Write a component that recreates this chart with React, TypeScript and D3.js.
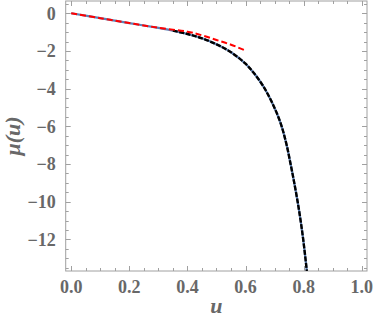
import React, {useEffect, useRef} from 'react';
import * as d3 from 'd3';

// values
const uExact = [0, 0.1, 0.2, 0.3, 0.35, 0.4, 0.45, 0.5, 0.55, 0.6, 0.63, 0.66, 0.69, 0.72, 0.74, 0.755, 0.767, 0.779, 0.789, 0.798, 0.811];
const muExact = [0, -0.26, -0.52, -0.78, -0.92, -1.1, -1.33, -1.65, -2.07, -2.68, -3.2, -3.85, -4.7, -5.8, -6.9, -8.0, -8.95, -9.98, -10.95, -11.95, -13.68];

const uApprox = [0, 0.1, 0.2, 0.3, 0.4, 0.45, 0.5, 0.55, 0.6];
const muApprox = [0, -0.26, -0.52, -0.77, -0.98, -1.17, -1.42, -1.67, -1.98];

const numericFrom = 0.35;

const xTicks = [0, 0.2, 0.4, 0.6, 0.8, 1.0];
const yTicks = [-12, -10, -8, -6, -4, -2, 0];

const W = 374;
const H = 329;
const frame = {left: 65.7, right: 367, top: 1, bottom: 271};

const App: React.FC = () => {
    const svgRef = useRef<SVGSVGElement>(null);

    useEffect(() => {
        const svg = d3.select(svgRef.current);
        svg.selectAll("*").remove();

        const x = d3.scaleLinear().domain([-0.019, 1.018]).range([frame.left, frame.right]);
        const y = d3.scaleLinear().domain([-13.68, 0.65]).range([frame.bottom, frame.top]);

        const frameColor = "#a0a0a0";
        const textColor = "#686868";
        const labelFont = "Liberation Serif, DejaVu Serif, serif";

        const xMinor = d3.range(0, 1.0001, 0.05);
        const yMinor = d3.range(-13.5, 0.5001, 0.5);

        const ticks = svg.append("g").attr("stroke", frameColor).attr("stroke-width", 1);
        xMinor.forEach(v => {
            const major = xTicks.some(t => Math.abs(t - v) < 1e-6);
            const len = major ? 5 : 3;
            const px = Math.round(x(v)) + 0.5;
            ticks.append("line").attr("x1", px).attr("x2", px)
                .attr("y1", frame.bottom).attr("y2", frame.bottom - len);
            ticks.append("line").attr("x1", px).attr("x2", px)
                .attr("y1", frame.top).attr("y2", frame.top + len);
        });
        yMinor.forEach(v => {
            const major = yTicks.some(t => Math.abs(t - v) < 1e-6);
            const len = major ? 5 : 3;
            const py = Math.round(y(v)) + 0.5;
            ticks.append("line").attr("y1", py).attr("y2", py)
                .attr("x1", frame.left).attr("x2", frame.left + len);
            ticks.append("line").attr("y1", py).attr("y2", py)
                .attr("x1", frame.right).attr("x2", frame.right - len);
        });

        svg.append("rect")
            .attr("x", frame.left).attr("y", frame.top)
            .attr("width", frame.right - frame.left).attr("height", frame.bottom - frame.top)
            .attr("fill", "none").attr("stroke", frameColor).attr("stroke-width", 1);

        svg.append("g").selectAll("text")
            .data(xTicks).enter().append("text")
            .attr("x", d => x(d))
            .attr("y", 293)
            .attr("text-anchor", "middle")
            .style("font-family", labelFont).style("font-weight", "bold").style("font-size", "18px")
            .attr("fill", textColor)
            .text(d => d.toFixed(1));

        svg.append("g").selectAll("text")
            .data(yTicks).enter().append("text")
            .attr("x", frame.left - 10)
            .attr("y", d => y(d))
            .attr("dy", "0.35em")
            .attr("text-anchor", "end")
            .style("font-family", labelFont).style("font-weight", "bold").style("font-size", "18px")
            .attr("fill", textColor)
            .text(d => (d < 0 ? "\u2212" + Math.abs(d) : String(d)));

        svg.append("text")
            .attr("x", (frame.left + frame.right) / 2)
            .attr("y", 313)
            .attr("text-anchor", "middle")
            .style("font-family", labelFont).style("font-weight", "bold").style("font-style", "italic")
            .style("font-size", "22px").attr("fill", textColor)
            .text("u");

        svg.append("text")
            .attr("transform", `translate(20,${(frame.top + frame.bottom) / 2}) rotate(-90)`)
            .attr("text-anchor", "middle")
            .style("font-family", labelFont).style("font-weight", "bold").style("font-style", "italic")
            .style("font-size", "22px").attr("fill", textColor)
            .text("\u03bc(u)");

        svg.append("clipPath").attr("id", "plot-clip")
            .append("rect")
            .attr("x", frame.left).attr("y", frame.top)
            .attr("width", frame.right - frame.left).attr("height", frame.bottom - frame.top);
        const g = svg.append("g").attr("clip-path", "url(#plot-clip)");

        const exact = uExact.map((u, i) => [u, muExact[i]] as [number, number]);
        const approx = uApprox.map((u, i) => [u, muApprox[i]] as [number, number]);
        const numeric = exact.filter(d => d[0] >= numericFrom);

        const line = d3.line<[number, number]>()
            .x(d => x(d[0]))
            .y(d => y(d[1]))
            .curve(d3.curveCatmullRom.alpha(0.5));

        // exact curve (thin blue)
        g.append("path").datum(exact)
            .attr("fill", "none").attr("stroke", "#5e81b5").attr("stroke-width", 2.2)
            .attr("d", line);

        // numeric (black dashed)
        g.append("path").datum(numeric)
            .attr("fill", "none").attr("stroke", "#000").attr("stroke-width", 2.4)
            .attr("stroke-dasharray", "5,1.5")
            .attr("d", line);

        // series approximation (red dashed)
        g.append("path").datum(approx)
            .attr("fill", "none").attr("stroke", "#ff0000").attr("stroke-width", 2)
            .attr("stroke-dasharray", "6,3")
            .attr("d", line);
    }, []);

    return (
        <svg
            ref={svgRef}
            width={W}
            height={H}
            style={{position: 'absolute', left: 0, top: 0, background: '#fff'}}
        />
    );
};

export default App;
